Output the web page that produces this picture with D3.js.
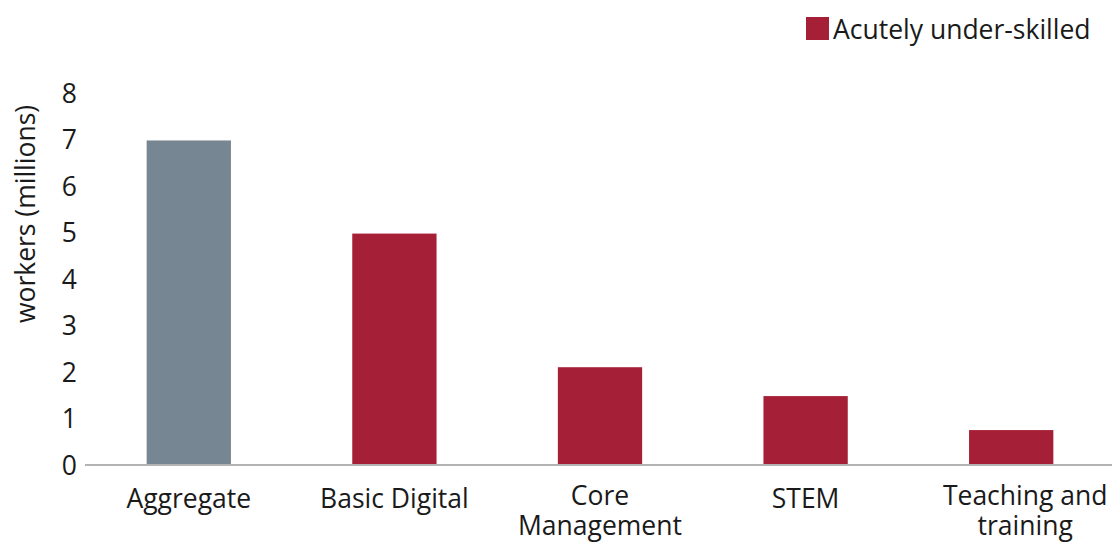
<!DOCTYPE html>
<html><head><meta charset="utf-8">
<script src="https://cdn.jsdelivr.net/npm/d3@7"></script>
<style>
html,body{margin:0;padding:0;background:#fff;}
text{font-family:"Open Sans",sans-serif;fill:#1a1a1a;}
</style></head>
<body>
<svg id="chart" width="1112" height="542"></svg>
<script>
const categories = ["Aggregate", "Basic Digital", "Core Management", "STEM", "Teaching and training"];
const labelLines = [["Aggregate"], ["Basic Digital"], ["Core", "Management"], ["STEM"], ["Teaching and", "training"]];
const values = [6.97, 4.97, 2.1, 1.48, 0.75];
const barColors = ["#768693", "#a51f36", "#a51f36", "#a51f36", "#a51f36"];
const yTicks = [0, 1, 2, 3, 4, 5, 6, 7, 8];
const legendLabel = "Acutely under-skilled";
const yTitle = "workers (millions)";

const FS = 26.5;
const svg = d3.select("#chart");
const x = d3.scaleBand().domain(categories).range([86, 1114]).paddingInner(0.59).paddingOuter(0.295);
const y = d3.scaleLinear().domain([0, 8]).range([465, 92.5]);

// bars
svg.selectAll("rect.bar").data(categories).enter().append("rect")
  .attr("class", "bar")
  .attr("x", d => x(d))
  .attr("width", x.bandwidth())
  .attr("y", (d, i) => y(values[i]))
  .attr("height", (d, i) => y(0) - y(values[i]))
  .attr("fill", (d, i) => barColors[i]);

// baseline
svg.append("line").attr("x1", 85).attr("x2", 1112).attr("y1", y(0)).attr("y2", y(0))
  .attr("stroke", "#b3b3b5").attr("stroke-width", 2);

// y axis
const yAxis = d3.axisLeft(y).tickValues(yTicks).tickSize(0).tickPadding(0);
const yg = svg.append("g").attr("transform", "translate(77,0)").call(yAxis);
yg.select(".domain").remove();
yg.selectAll("text").attr("font-size", FS).attr("font-family", "Open Sans").attr("fill", "#1a1a1a").attr("dy", "0.36em");

// x labels (last one is shifted right in the original, pushed by the edge)
const xl = svg.append("g");
labelLines.forEach((lines, i) => {
  const cx = x(categories[i]) + x.bandwidth() / 2 + (i === categories.length - 1 ? 14 : 0);
  const t = xl.append("text").attr("text-anchor", "middle").attr("font-size", FS)
    .attr("x", cx).attr("y", lines.length > 1 ? 505 : 508);
  lines.forEach((ln, j) => t.append("tspan").attr("x", cx)
    .attr("dy", j === 0 ? 0 : 30).text(ln));
});

// y title
svg.append("text").attr("transform", "translate(35,214) rotate(-90)")
  .attr("text-anchor", "middle").attr("font-size", FS).text(yTitle);

// legend
svg.append("rect").attr("x", 806).attr("y", 17).attr("width", 23).attr("height", 23).attr("fill", barColors[1]);
svg.append("text").attr("x", 833).attr("y", 39).attr("font-size", FS).text(legendLabel);
</script>
</body></html>
